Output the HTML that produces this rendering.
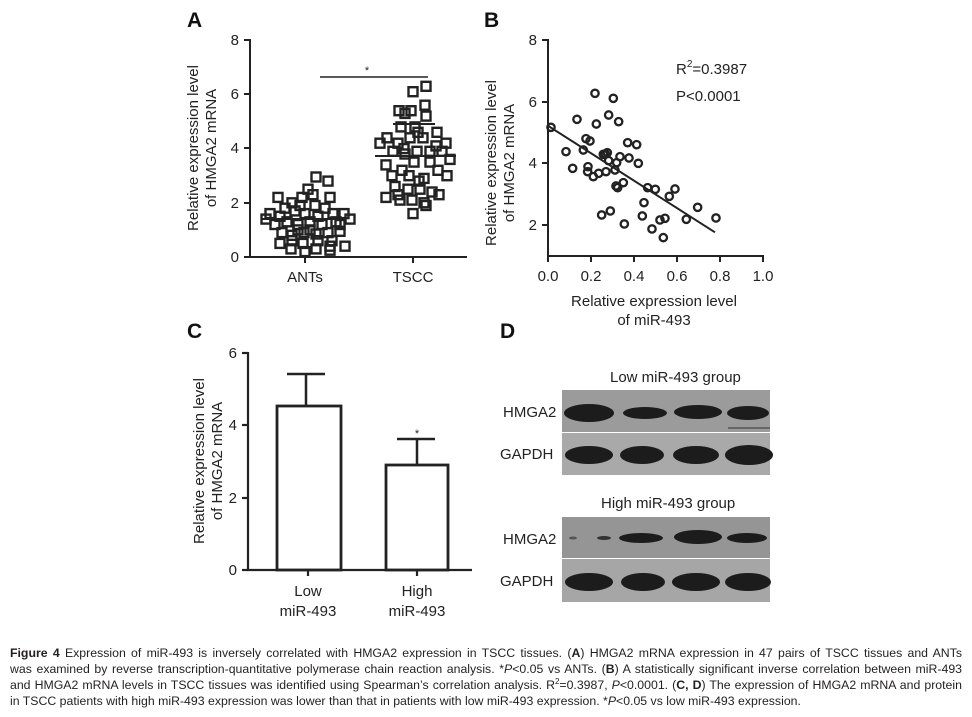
<!DOCTYPE html>
<html><head><meta charset="utf-8"><style>
html,body{margin:0;padding:0;background:#fff;}
body{width:972px;height:717px;position:relative;overflow:hidden;}
svg{position:absolute;left:0;top:0;}
.cap{position:absolute;left:10px;width:952px;font-family:"Liberation Sans",sans-serif;font-size:12.3px;line-height:16px;color:#231f20;white-space:nowrap;}
.j{text-align:justify;text-align-last:justify;white-space:normal;}
</style></head><body>
<svg width="972" height="717" viewBox="0 0 972 717" font-family="Liberation Sans, sans-serif" fill="#222">
<!-- Panel A -->
<text x="187" y="27" font-size="21" font-weight="bold" fill="#111">A</text>
<g stroke="#222" stroke-width="2" fill="none">
<line x1="250" y1="39" x2="250" y2="258"/><line x1="249" y1="257" x2="467" y2="257"/>
<line x1="244" y1="40" x2="250" y2="40"/><line x1="244" y1="94" x2="250" y2="94"/><line x1="244" y1="148" x2="250" y2="148"/><line x1="244" y1="203" x2="250" y2="203"/><line x1="244" y1="257" x2="250" y2="257"/>
<line x1="305" y1="257" x2="305" y2="263"/><line x1="413" y1="257" x2="413" y2="263"/>
<line x1="320" y1="77" x2="428" y2="77" stroke-width="1.5"/>
</g>
<text x="367" y="74" font-size="11" text-anchor="middle">*</text>
<g font-size="15" text-anchor="end"><text x="239" y="45">8</text><text x="239" y="99">6</text><text x="239" y="153">4</text><text x="239" y="208">2</text><text x="239" y="262">0</text></g>
<g font-size="15" text-anchor="middle"><text x="305" y="282">ANTs</text><text x="413" y="282">TSCC</text></g>
<g font-size="15" text-anchor="middle"><text transform="translate(198,148) rotate(-90)">Relative expression level</text><text transform="translate(216,148) rotate(-90)">of HMGA2 mRNA</text></g>
<g stroke="#222" stroke-width="2.4" fill="none" transform="translate(-0.5,-0.5)">
<rect x="409" y="87.7" width="9" height="9"/><rect x="422" y="82.3" width="9" height="9"/><rect x="395" y="106.7" width="9" height="9"/><rect x="407" y="106.7" width="9" height="9"/><rect x="421" y="101.2" width="9" height="9"/><rect x="422" y="112.1" width="9" height="9"/><rect x="401" y="109.4" width="9" height="9"/><rect x="411" y="122.9" width="9" height="9"/><rect x="383" y="133.8" width="9" height="9"/><rect x="394" y="139.2" width="9" height="9"/><rect x="406" y="133.8" width="9" height="9"/><rect x="419" y="133.8" width="9" height="9"/><rect x="433" y="128.3" width="9" height="9"/><rect x="442" y="139.2" width="9" height="9"/><rect x="376" y="139.2" width="9" height="9"/><rect x="389" y="147.3" width="9" height="9"/><rect x="401" y="150" width="9" height="9"/><rect x="413" y="147.3" width="9" height="9"/><rect x="426" y="147.3" width="9" height="9"/><rect x="438" y="147.3" width="9" height="9"/><rect x="382" y="160.9" width="9" height="9"/><rect x="398" y="166.3" width="9" height="9"/><rect x="410" y="158.1" width="9" height="9"/><rect x="420" y="174.4" width="9" height="9"/><rect x="434" y="166.3" width="9" height="9"/><rect x="446" y="155.4" width="9" height="9"/><rect x="391" y="182.5" width="9" height="9"/><rect x="404" y="185.2" width="9" height="9"/><rect x="416" y="185.2" width="9" height="9"/><rect x="428" y="188" width="9" height="9"/><rect x="382" y="193.4" width="9" height="9"/><rect x="396" y="196.1" width="9" height="9"/><rect x="408" y="196.1" width="9" height="9"/><rect x="420" y="198.8" width="9" height="9"/><rect x="435" y="190.7" width="9" height="9"/><rect x="422" y="201.5" width="9" height="9"/><rect x="409" y="209.6" width="9" height="9"/><rect x="394" y="190.7" width="9" height="9"/><rect x="400" y="144.6" width="9" height="9"/><rect x="426" y="158.1" width="9" height="9"/><rect x="415" y="177.1" width="9" height="9"/><rect x="388" y="171.7" width="9" height="9"/><rect x="443" y="171.7" width="9" height="9"/><rect x="414" y="128.3" width="9" height="9"/><rect x="397" y="122.9" width="9" height="9"/><rect x="432" y="141.9" width="9" height="9"/><rect x="405" y="171.7" width="9" height="9"/>
<rect x="274" y="193.4" width="9" height="9"/><rect x="288" y="198.8" width="9" height="9"/><rect x="298" y="193.4" width="9" height="9"/><rect x="309" y="190.7" width="9" height="9"/><rect x="324" y="177.1" width="9" height="9"/><rect x="312" y="173" width="9" height="9"/><rect x="326" y="193.4" width="9" height="9"/><rect x="304" y="185.2" width="9" height="9"/><rect x="266" y="209.6" width="9" height="9"/><rect x="276" y="212.3" width="9" height="9"/><rect x="291" y="206.9" width="9" height="9"/><rect x="301" y="209.6" width="9" height="9"/><rect x="314" y="212.3" width="9" height="9"/><rect x="329" y="209.6" width="9" height="9"/><rect x="340" y="209.6" width="9" height="9"/><rect x="346" y="215.1" width="9" height="9"/><rect x="271" y="220.5" width="9" height="9"/><rect x="283" y="217.8" width="9" height="9"/><rect x="294" y="220.5" width="9" height="9"/><rect x="306" y="217.8" width="9" height="9"/><rect x="318" y="220.5" width="9" height="9"/><rect x="332" y="217.8" width="9" height="9"/><rect x="278" y="228.6" width="9" height="9"/><rect x="288" y="231.3" width="9" height="9"/><rect x="300" y="228.6" width="9" height="9"/><rect x="312" y="230" width="9" height="9"/><rect x="324" y="228.6" width="9" height="9"/><rect x="336" y="227.3" width="9" height="9"/><rect x="276" y="239.4" width="9" height="9"/><rect x="288" y="236.7" width="9" height="9"/><rect x="299" y="239.4" width="9" height="9"/><rect x="314" y="236.7" width="9" height="9"/><rect x="328" y="236.7" width="9" height="9"/><rect x="287" y="244.9" width="9" height="9"/><rect x="301" y="247.6" width="9" height="9"/><rect x="312" y="244.9" width="9" height="9"/><rect x="326" y="246.2" width="9" height="9"/><rect x="326" y="242.2" width="9" height="9"/><rect x="341" y="242.2" width="9" height="9"/><rect x="306" y="225.9" width="9" height="9"/><rect x="296" y="201.5" width="9" height="9"/><rect x="321" y="204.2" width="9" height="9"/><rect x="281" y="204.2" width="9" height="9"/><rect x="336" y="220.5" width="9" height="9"/><rect x="262" y="215.1" width="9" height="9"/><rect x="294" y="225.9" width="9" height="9"/><rect x="311" y="201.5" width="9" height="9"/>
</g>
<g stroke="#222" stroke-width="2"><line x1="262" y1="219" x2="346" y2="219"/><line x1="375" y1="156" x2="456" y2="156"/><line x1="393" y1="124" x2="435" y2="124"/></g>
<!-- Panel B -->
<text x="484" y="27" font-size="21" font-weight="bold" fill="#111">B</text>
<g stroke="#222" stroke-width="2" fill="none">
<line x1="548" y1="39" x2="548" y2="257"/><line x1="547" y1="256" x2="764" y2="256"/>
<line x1="542" y1="40" x2="548" y2="40"/><line x1="542" y1="102" x2="548" y2="102"/><line x1="542" y1="163" x2="548" y2="163"/><line x1="542" y1="225" x2="548" y2="225"/>
<line x1="548" y1="256" x2="548" y2="262"/><line x1="591" y1="256" x2="591" y2="262"/><line x1="634" y1="256" x2="634" y2="262"/><line x1="677" y1="256" x2="677" y2="262"/><line x1="720" y1="256" x2="720" y2="262"/><line x1="763" y1="256" x2="763" y2="262"/>
</g>
<g font-size="15" text-anchor="end"><text x="537" y="45">8</text><text x="537" y="107">6</text><text x="537" y="168">4</text><text x="537" y="230">2</text></g>
<g font-size="15" text-anchor="middle"><text x="548" y="281">0.0</text><text x="591" y="281">0.2</text><text x="634" y="281">0.4</text><text x="677" y="281">0.6</text><text x="720" y="281">0.8</text><text x="763" y="281">1.0</text>
<text x="654" y="306">Relative expression level</text><text x="654" y="325">of miR-493</text>
<text transform="translate(496,163) rotate(-90)">Relative expression level</text><text transform="translate(514,163) rotate(-90)">of HMGA2 mRNA</text></g>
<text x="676" y="74" font-size="15">R<tspan font-size="10" dy="-7">2</tspan><tspan dy="7">=0.3987</tspan></text>
<text x="676" y="101" font-size="15">P&lt;0.0001</text>
<g transform="translate(480,0) scale(0.3333)" stroke="#222" fill="none">
<line x1="205" y1="378" x2="705" y2="697" stroke-width="6"/>
<g stroke-width="7">
<circle cx="213" cy="382" r="11"/><circle cx="258" cy="455" r="11"/><circle cx="278" cy="505" r="11"/><circle cx="291" cy="358" r="11"/><circle cx="310" cy="450" r="11"/><circle cx="318" cy="416" r="11"/><circle cx="324" cy="500" r="11"/><circle cx="330" cy="423" r="11"/><circle cx="323" cy="515" r="11"/><circle cx="340" cy="530" r="11"/><circle cx="349" cy="372" r="11"/><circle cx="345" cy="280" r="11"/><circle cx="356" cy="520" r="11"/><circle cx="365" cy="645" r="11"/><circle cx="370" cy="463" r="11"/><circle cx="378" cy="515" r="11"/><circle cx="382" cy="458" r="11"/><circle cx="386" cy="345" r="11"/><circle cx="386" cy="482" r="11"/><circle cx="391" cy="633" r="11"/><circle cx="400" cy="295" r="11"/><circle cx="405" cy="510" r="11"/><circle cx="410" cy="488" r="11"/><circle cx="408" cy="558" r="11"/><circle cx="413" cy="563" r="11"/><circle cx="416" cy="365" r="11"/><circle cx="420" cy="470" r="11"/><circle cx="430" cy="548" r="11"/><circle cx="433" cy="672" r="11"/><circle cx="443" cy="428" r="11"/><circle cx="447" cy="474" r="11"/><circle cx="470" cy="434" r="11"/><circle cx="475" cy="490" r="11"/><circle cx="487" cy="648" r="11"/><circle cx="492" cy="608" r="11"/><circle cx="503" cy="563" r="11"/><circle cx="516" cy="687" r="11"/><circle cx="526" cy="568" r="11"/><circle cx="540" cy="660" r="11"/><circle cx="550" cy="713" r="11"/><circle cx="555" cy="655" r="11"/><circle cx="568" cy="589" r="11"/><circle cx="585" cy="567" r="11"/><circle cx="619" cy="658" r="11"/><circle cx="653" cy="622" r="11"/><circle cx="708" cy="654" r="11"/><circle cx="376" cy="462" r="11"/>
</g></g>
<!-- Panel C -->
<text x="187" y="338" font-size="21" font-weight="bold" fill="#111">C</text>
<g stroke="#222" stroke-width="2.2" fill="none">
<line x1="248" y1="352" x2="248" y2="571"/><line x1="247" y1="570" x2="472" y2="570"/>
<line x1="242" y1="353" x2="248" y2="353"/><line x1="242" y1="425" x2="248" y2="425"/><line x1="242" y1="498" x2="248" y2="498"/><line x1="242" y1="570" x2="248" y2="570"/>
<line x1="308" y1="570" x2="308" y2="576"/><line x1="417" y1="570" x2="417" y2="576"/>
<line x1="306" y1="374" x2="306" y2="406" stroke-width="2.5"/><line x1="287" y1="374" x2="325" y2="374" stroke-width="2.5"/>
<line x1="417" y1="439" x2="417" y2="465" stroke-width="2.5"/><line x1="397" y1="439" x2="435" y2="439" stroke-width="2.5"/>
<rect x="277" y="406" width="64" height="164" stroke-width="2.8"/><rect x="386" y="465" width="62" height="105" stroke-width="2.8"/>
</g>
<text x="417" y="437" font-size="11" text-anchor="middle">*</text>
<g font-size="15" text-anchor="end"><text x="237" y="358">6</text><text x="237" y="430">4</text><text x="237" y="503">2</text><text x="237" y="575">0</text></g>
<g font-size="15" text-anchor="middle"><text x="308" y="596">Low</text><text x="308" y="616">miR-493</text><text x="417" y="596">High</text><text x="417" y="616">miR-493</text>
<text transform="translate(204,461) rotate(-90)">Relative expression level</text><text transform="translate(222,461) rotate(-90)">of HMGA2 mRNA</text></g>
<!-- Panel D -->
<text x="500" y="338" font-size="21" font-weight="bold" fill="#111">D</text>
<g font-size="15"><text x="610" y="382">Low miR-493 group</text><text x="601" y="508">High miR-493 group</text>
<text x="503" y="417">HMGA2</text><text x="500" y="459">GAPDH</text><text x="503" y="544">HMGA2</text><text x="500" y="586">GAPDH</text></g>
<rect x="562" y="390" width="208" height="42" fill="#9b9b9b"/>
<rect x="562" y="433" width="208" height="42" fill="#a9a9a9"/>
<rect x="562" y="517" width="208" height="41" fill="#959595"/>
<rect x="562" y="559" width="208" height="43" fill="#a6a6a6"/>
<g fill="#1c1c1c">
<ellipse cx="589" cy="413" rx="25" ry="9"/><ellipse cx="645" cy="413" rx="22" ry="6"/><ellipse cx="698" cy="412" rx="24" ry="7"/><ellipse cx="748" cy="413" rx="21" ry="7"/>
<ellipse cx="589" cy="455" rx="24" ry="9"/><ellipse cx="642" cy="455" rx="22" ry="9"/><ellipse cx="696" cy="455" rx="23" ry="9"/><ellipse cx="749" cy="455" rx="24" ry="10"/>
<ellipse cx="573" cy="538" rx="4" ry="1.5" fill="#555"/><ellipse cx="604" cy="538" rx="7" ry="2" fill="#333"/><ellipse cx="641" cy="538" rx="22" ry="5"/><ellipse cx="698" cy="537" rx="24" ry="7"/><ellipse cx="747" cy="538" rx="20" ry="5"/>
<ellipse cx="589" cy="582" rx="24" ry="9"/><ellipse cx="643" cy="582" rx="22" ry="9"/><ellipse cx="696" cy="582" rx="24" ry="9"/><ellipse cx="748" cy="582" rx="23" ry="9"/>
</g>
<line x1="728" y1="428" x2="770" y2="428" stroke="#333" stroke-width="1"/>
</svg>
<div class="cap j" style="top:645px"><b>Figure 4</b> Expression of miR-493 is inversely correlated with HMGA2 expression in TSCC tissues. (<b>A</b>) HMGA2 mRNA expression in 47 pairs of TSCC tissues and ANTs</div>
<div class="cap j" style="top:661px">was examined by reverse transcription-quantitative polymerase chain reaction analysis. *<i>P</i>&lt;0.05 vs ANTs. (<b>B</b>) A statistically significant inverse correlation between miR-493</div>
<div class="cap j" style="top:677px">and HMGA2 mRNA levels in TSCC tissues was identified using Spearman’s correlation analysis. R<sup style="font-size:8px;line-height:0">2</sup>=0.3987, <i>P</i>&lt;0.0001. (<b>C, D</b>) The expression of HMGA2 mRNA and protein</div>
<div class="cap" style="top:693px">in TSCC patients with high miR-493 expression was lower than that in patients with low miR-493 expression. *<i>P</i>&lt;0.05 vs low miR-493 expression.</div>
</body></html>
